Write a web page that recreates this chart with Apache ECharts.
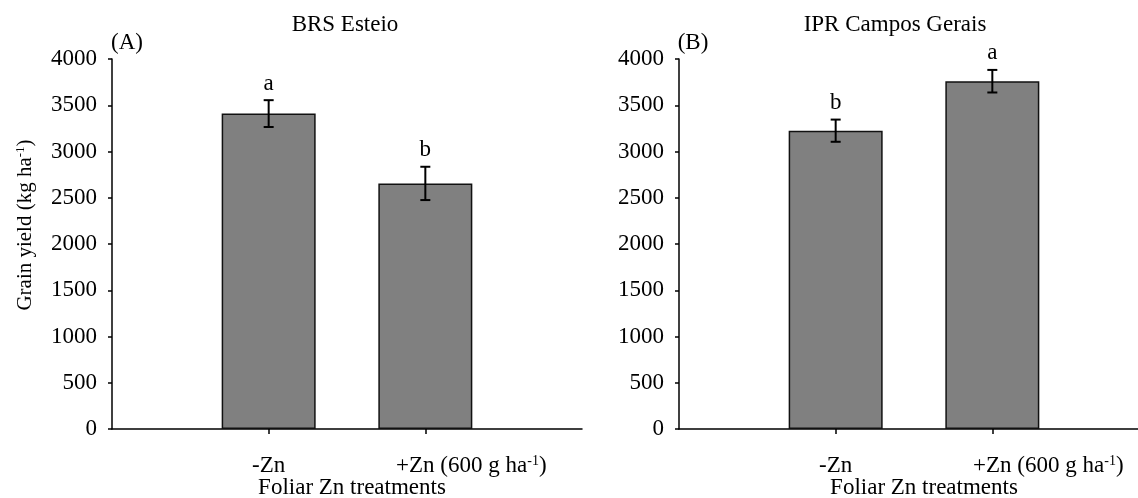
<!DOCTYPE html>
<html>
<head>
<meta charset="utf-8">
<script src="https://cdn.jsdelivr.net/npm/echarts@6/dist/echarts.min.js"></script>
<style>html,body{margin:0;padding:0;background:#fff;}#c{width:1138px;height:498px;}</style>
</head>
<body>
<div id="c"></div>
<script>
const categories = ['-Zn', '+Zn (600 g ha-1)'];
const esteioYield = [3410, 2655];
const esteioErr = [145, 180];
const esteioLetters = ['a', 'b'];
const camposYield = [3225, 3760];
const camposErr = [120, 122];
const camposLetters = ['b', 'a'];
const yMin = 0, yMax = 4000, yStep = 500;

const FONT = 'Liberation Serif';
const FS = 23;
const chart = echarts.init(document.getElementById('c'), null, {renderer: 'canvas'});

function makeXLabel(pad) {
  return function (v) {
    if (v === 1) return '{n|' + categories[0] + '}';
    if (v === 2) return '{' + pad + '|+Zn (600 g ha}{s|-1}{n|)}';
    return '';
  };
}
const rich = {
  n: {fontFamily: FONT, fontSize: FS, color: '#000', lineHeight: 24},
  p0: {fontFamily: FONT, fontSize: FS, color: '#000', lineHeight: 24, padding: [0, 0, 0, 92]},
  p1: {fontFamily: FONT, fontSize: FS, color: '#000', lineHeight: 24, padding: [0, 0, 0, 112]},
  s: {fontFamily: FONT, fontSize: 14, color: '#000', lineHeight: 14, verticalAlign: 'top'},
  yn: {fontFamily: FONT, fontSize: 21, color: '#000', lineHeight: 22},
  yp: {fontFamily: FONT, fontSize: 21, color: '#000', lineHeight: 22, padding: [0, 0, 0, 38]},
  ys: {fontFamily: FONT, fontSize: 13, color: '#000', lineHeight: 13, verticalAlign: 'top'}
};

function xAxis(idx) {
  return {
    type: 'value', gridIndex: idx, min: 0, max: 3, interval: 1,
    splitLine: {show: false},
    axisLine: {show: true, lineStyle: {color: '#000', width: 1.5}},
    axisTick: {show: true, length: 5, customValues: [1, 2], lineStyle: {color: '#000', width: 1.5}},
    axisLabel: {customValues: [1, 2], formatter: makeXLabel(idx === 0 ? 'p0' : 'p1'), rich: rich, margin: 25, color: '#000'},
    name: 'Foliar Zn treatments', nameLocation: 'middle', nameGap: 47, nameMoveOverlap: false,
    nameTextStyle: {fontFamily: FONT, fontSize: FS, color: '#000', padding: [0, 0, 0, idx === 0 ? 10 : 20]}
  };
}
function yAxis(idx) {
  const o = {
    type: 'value', gridIndex: idx, min: yMin, max: yMax, interval: yStep,
    splitLine: {show: false},
    axisLine: {show: true, lineStyle: {color: '#000', width: 1.5}},
    axisTick: {show: true, length: 4, lineStyle: {color: '#000', width: 1.5}},
    axisLabel: {fontFamily: FONT, fontSize: FS, color: '#000', margin: 15, formatter: v => String(v)}
  };
  if (idx === 0) {
    o.name = '{yp|Grain yield (kg ha}{ys|-1}{yn|)}';
    o.nameLocation = 'middle';
    o.nameGap = 76;
    o.nameMoveOverlap = false;
    o.nameTextStyle = {rich: rich};
  }
  return o;
}

function errSeries(idx, vals, errs, letters) {
  return {
    type: 'custom', xAxisIndex: idx, yAxisIndex: idx, z: 5,
    data: vals.map((v, i) => [i + 1, v, errs[i]]),
    renderItem: function (params, api) {
      const x = api.value(0), v = api.value(1), e = api.value(2);
      const top = api.coord([x, v + e]);
      const bot = api.coord([x, v - e]);
      const hw = 5;
      const st = {stroke: '#000', lineWidth: 2};
      const letter = letters[params.dataIndex];
      return {
        type: 'group',
        children: [
          {type: 'line', shape: {x1: top[0], y1: top[1], x2: bot[0], y2: bot[1]}, style: st},
          {type: 'line', shape: {x1: top[0] - hw, y1: top[1], x2: top[0] + hw, y2: top[1]}, style: st},
          {type: 'line', shape: {x1: bot[0] - hw, y1: bot[1], x2: bot[0] + hw, y2: bot[1]}, style: st},
          {type: 'text', x: top[0], y: top[1] - 5, style: {text: letter, fontFamily: FONT, fontSize: FS, fill: '#000', align: 'center', verticalAlign: 'bottom'}}
        ]
      };
    }
  };
}
function barSeries(idx, vals) {
  return {
    type: 'bar', xAxisIndex: idx, yAxisIndex: idx, barWidth: 94,
    data: vals.map((v, i) => [i + 1, v]),
    itemStyle: {color: '#808080', borderColor: '#111', borderWidth: 1.5},
    silent: true
  };
}

const txt = (s, x, y) => ({type: 'text', x: x, y: y, style: {text: s, fontFamily: FONT, fontSize: FS, fill: '#000', align: 'center', verticalAlign: 'middle'}});

chart.setOption({
  animation: false,
  backgroundColor: '#fff',
  textStyle: {fontFamily: FONT},
  grid: [
    {left: 112, top: 59, width: 470, height: 370, outerBoundsMode: 'none', containLabel: false},
    {left: 679, top: 59, width: 470, height: 370, outerBoundsMode: 'none', containLabel: false}
  ],
  xAxis: [xAxis(0), xAxis(1)],
  yAxis: [yAxis(0), yAxis(1)],
  series: [
    barSeries(0, esteioYield), errSeries(0, esteioYield, esteioErr, esteioLetters),
    barSeries(1, camposYield), errSeries(1, camposYield, camposErr, camposLetters)
  ],
  graphic: [
    txt('BRS Esteio', 345, 25),
    txt('(A)', 127, 43),
    txt('IPR Campos Gerais', 895, 25),
    txt('(B)', 693, 43)
  ]
});
</script>
</body>
</html>
